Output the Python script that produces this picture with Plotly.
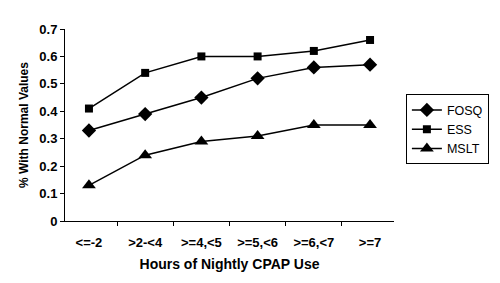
import plotly.graph_objects as go

categories = ["<=-2", ">2-<4", ">=4,<5", ">=5,<6", ">=6,<7", ">=7"]
fosq = [0.33, 0.39, 0.45, 0.52, 0.56, 0.57]
ess = [0.41, 0.54, 0.60, 0.60, 0.62, 0.66]
mslt = [0.13, 0.24, 0.29, 0.31, 0.35, 0.35]
y_ticks = [0, 0.1, 0.2, 0.3, 0.4, 0.5, 0.6, 0.7]

fig = go.Figure()
series = [("FOSQ", fosq, "diamond", 11), ("ESS", ess, "square", 8), ("MSLT", mslt, "triangle-up", 12)]
for name, vals, sym, size in series:
    fig.add_trace(go.Scatter(
        x=categories, y=vals, name=name, mode="lines+markers",
        line=dict(color="black", width=1.5),
        marker=dict(symbol=sym, size=size, color="black"),
    ))

fig.update_layout(
    width=500, height=283,
    margin=dict(l=65, r=105, t=29, b=62),
    paper_bgcolor="white", plot_bgcolor="white",
    font=dict(family="Arial, Liberation Sans, sans-serif", color="black"),
    showlegend=True,
    legend=dict(x=1.033, y=0.66, xanchor="left", yanchor="top",
                bordercolor="black", borderwidth=1,
                font=dict(size=12.5, family="Arial, Liberation Sans, sans-serif"),
                tracegroupgap=0, itemwidth=30),
)
fig.update_xaxes(
    type="category", tickson="boundaries", ticks="outside", ticklen=4,
    tickcolor="black", showline=True, linecolor="black", linewidth=1,
    showgrid=False, tickvals=categories,
    ticktext=[f"<b>{c}</b>" for c in categories],
    tickfont=dict(size=13, family="Arial, Liberation Sans, sans-serif"),
    ticklabelstandoff=9,
    title=dict(text="<b>Hours of Nightly CPAP Use</b>", font=dict(size=14), standoff=10),
)
fig.update_yaxes(
    range=[0, 0.7], tickvals=y_ticks, ticktext=[f"<b>{v:g}</b>" for v in y_ticks],
    ticks="outside", ticklen=4, tickcolor="black",
    showline=True, linecolor="black", linewidth=1, showgrid=False, zeroline=False,
    tickfont=dict(size=13),
    title=dict(text="<b>% With Normal Values</b>", font=dict(size=12), standoff=8),
)
fig.write_html("out.html")
